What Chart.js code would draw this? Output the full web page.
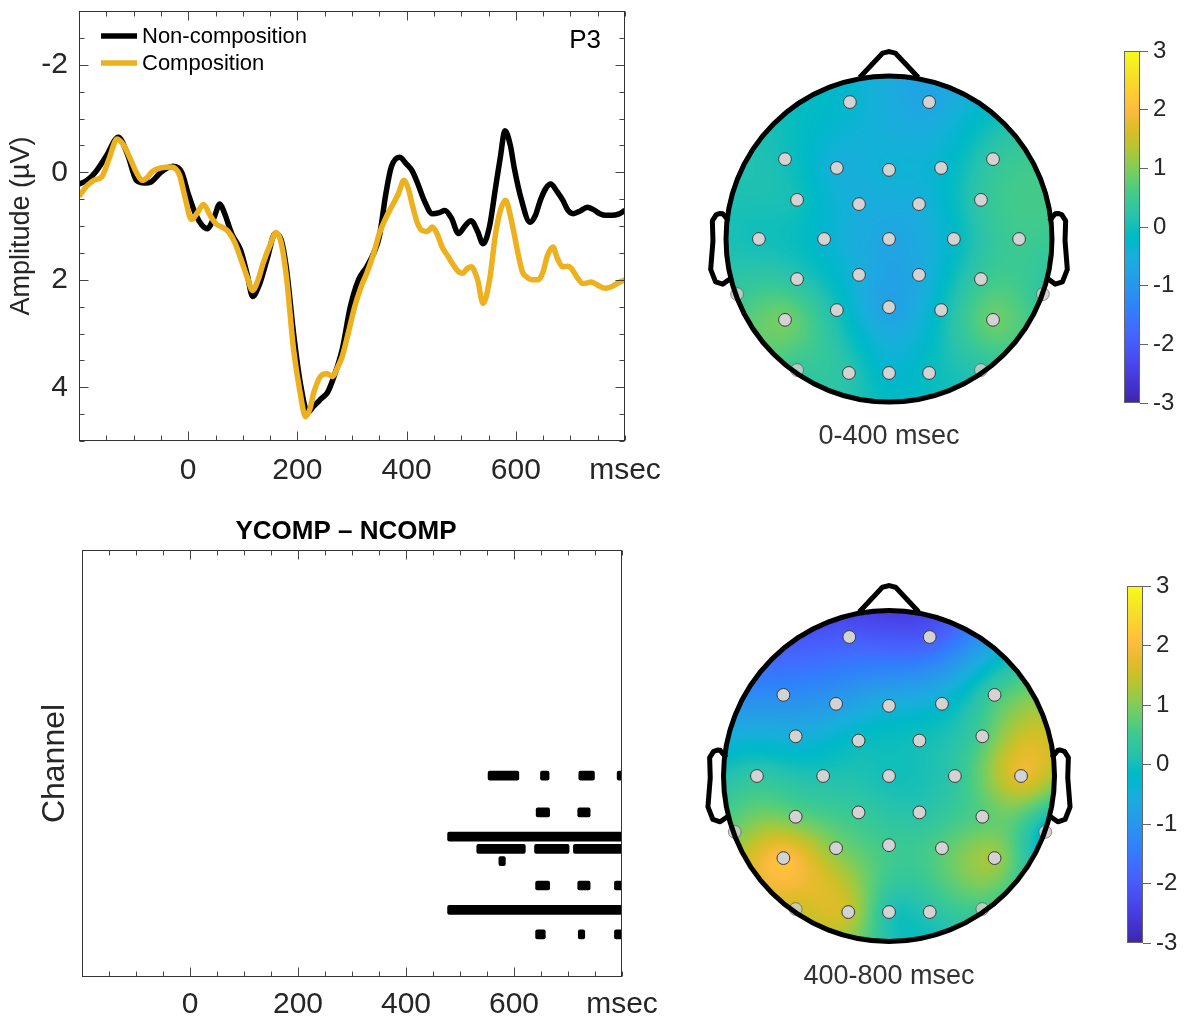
<!DOCTYPE html>
<html>
<head>
<meta charset="utf-8">
<script src="https://cdn.jsdelivr.net/npm/chart.js@4.4.0/dist/chart.umd.min.js"></script>
<style>
  body { margin:0; width:1189px; height:1018px; overflow:hidden; background:#fff; position:relative; }
  canvas { position:absolute; }
</style>
</head>
<body>
<canvas id="erp" width="700" height="500" style="left:0px;top:0px"></canvas>
<canvas id="sig" width="700" height="518" style="left:0px;top:500px"></canvas>
<canvas id="topo1" width="440" height="480" style="left:670px;top:0px"></canvas>
<canvas id="topo2" width="440" height="498" style="left:670px;top:520px"></canvas>
<canvas id="cb1" width="89" height="460" style="left:1100px;top:0px"></canvas>
<canvas id="cb2" width="89" height="470" style="left:1100px;top:530px"></canvas>
<script>
// ---------------- DATA ----------------
const seriesNames = ['Non-composition', 'Composition'];
const channelName = 'P3';

const timesNC = [-200,-185,-170,-150,-128,-110,-95,-80,-68,-50,-28,-12,0,13,25,35,47,58,66,80,96,108,118,130,145,159,170,180,193,205,219,230,245,255,267,282,297,312,327,340,350,362,372,387,400,410,420,432,447,460,470,482,495,507,518,530,540,552,563,572,580,590,597,610,626,636,645,655,664,675,686,695,705,718,731,743,754,765,776,788,800];
const ampNC = [0.22,0.15,0.0,-0.3,-0.65,-0.3,0.15,0.2,0.18,0.0,-0.11,0.0,0.4,0.77,0.98,1.05,0.85,0.59,0.75,1.15,1.45,1.9,2.31,2.1,1.6,1.14,1.25,1.8,3.0,3.9,4.47,4.35,4.2,4.1,3.8,3.3,2.5,2.0,1.76,1.5,1.2,0.4,-0.1,-0.28,-0.15,-0.03,0.2,0.52,0.77,0.75,0.71,0.85,1.14,1.0,0.9,1.1,1.33,1.0,0.28,-0.3,-0.77,-0.5,-0.09,0.5,0.93,0.8,0.52,0.3,0.22,0.35,0.52,0.7,0.77,0.72,0.65,0.7,0.77,0.8,0.8,0.78,0.71];

const timesC = [-200,-185,-173,-158,-145,-130,-118,-106,-95,-84,-75,-65,-50,-31,-16,-5,6,17,28,40,51,62,73,85,96,108,118,128,137,150,161,170,180,193,205,215,223,230,245,255,264,275,282,293,305,316,327,340,350,362,372,385,395,403,410,420,428,438,447,456,465,475,484,495,503,510,518,530,540,552,563,572,581,592,604,612,619,630,641,650,658,668,676,686,694,701,712,723,730,738,750,764,775,787,800];
const ampC = [0.45,0.25,0.15,0.08,-0.25,-0.62,-0.5,-0.25,0.0,0.15,0.1,-0.02,-0.08,-0.1,0.05,0.5,0.88,0.75,0.6,0.8,0.96,1.02,1.1,1.3,1.6,1.95,2.2,2.0,1.7,1.35,1.12,1.3,1.95,3.3,4.1,4.55,4.4,4.1,3.77,3.75,3.8,3.6,3.43,3.0,2.5,2.15,1.88,1.5,1.14,0.85,0.65,0.4,0.15,0.3,0.59,0.95,1.08,1.1,1.02,1.15,1.39,1.55,1.7,1.85,1.88,1.8,1.76,2.0,2.44,2.0,1.14,0.7,0.52,0.9,1.51,1.85,1.94,2.0,2.0,1.85,1.55,1.39,1.6,1.76,1.75,1.78,1.95,2.07,2.06,2.04,2.1,2.16,2.13,2.06,2.0];

const xTickLabels = { '0':'0', '200':'200', '400':'400', '600':'600', '800':'msec' };
const yTickLabels = { '-2':'-2', '0':'0', '2':'2', '4':'4' };
const xMajorTicks = [0, 200, 400, 600];
const yMajorTicks = [-2, 0, 2, 4];

const diffTitle = 'YCOMP \u2013 NCOMP';
const sigRows  = [19, 19, 19, 19, 22, 22, 24, 25, 25, 25, 26, 28, 28, 28, 30, 32, 32, 32];
const sigStart = [552,649,720,791,641,718,477,531,638,710,572,640,718,786,477,640,719,786];
const sigEnd   = [609,665,749,800,666,741,800,621,702,800,584,666,741,800,800,658,731,800];

// electrode positions (head radius = 0.5, +y = front)
const elecX = [-0.120,0.123, -0.319,-0.160,0,0.160,0.319, -0.282,-0.092,0.092,0.282, -0.399,-0.199,0,0.199,0.399, -0.282,-0.092,0.092,0.282, -0.466,-0.319,-0.160,0,0.160,0.319,0.472, -0.282,-0.123,0,0.123,0.282];
const elecY = [0.420,0.420, 0.245,0.218,0.212,0.218,0.245, 0.120,0.107,0.107,0.120, 0,0,0,0,0, -0.123,-0.110,-0.110,-0.123, -0.169,-0.248,-0.218,-0.209,-0.218,-0.248,-0.169, -0.402,-0.411,-0.411,-0.411,-0.402];
const topoEarly = [-0.3,-0.7, 0.0,-0.5,-0.4,-0.3,0.3, 0.0,-0.5,-0.5,0.3, 0.0,-0.3,-0.7,-0.2,0.5, 0.2,-0.5,-0.6,0.4, 0.4,0.9,0.0,-0.8,-0.1,0.85,0.3, 0.4,0.2,-0.3,-0.1,0.2];
const topoLate  = [-2.0,-2.0, -1.2,-0.9,-0.5,-0.3,0.5, -0.5,-0.1,0.0,0.6, 0.3,0.1,0.0,0.3,1.8, 0.8,0.4,0.2,0.7, 0.9,2.1,1.0,0.5,0.7,1.2,-0.3, 1.5,1.5,0.1,0.2,0.5];
const topoTitles = ['0-400 msec', '400-800 msec'];
const cbMin = -3, cbMax = 3;

// ---------------- STYLE ----------------
const FONT = "'Liberation Sans', Arial, Helvetica, sans-serif";
const TXT = '#262626';
const ORANGE = '#EDB120';
Chart.defaults.font.family = FONT;
Chart.defaults.animation = false;

const PARULA = [[0.2422,0.1504,0.6603],[0.2504,0.1650,0.7076],[0.2578,0.1818,0.7511],[0.2647,0.1978,0.7952],[0.2706,0.2147,0.8364],[0.2751,0.2342,0.8710],[0.2783,0.2559,0.8991],[0.2803,0.2782,0.9221],[0.2813,0.3006,0.9414],[0.2810,0.3228,0.9579],[0.2795,0.3447,0.9717],[0.2760,0.3667,0.9829],[0.2699,0.3892,0.9906],[0.2602,0.4123,0.9952],[0.2440,0.4358,0.9988],[0.2206,0.4603,0.9973],[0.1963,0.4847,0.9892],[0.1834,0.5074,0.9798],[0.1786,0.5289,0.9682],[0.1764,0.5499,0.9520],[0.1687,0.5703,0.9359],[0.1540,0.5902,0.9218],[0.1460,0.6091,0.9079],[0.1380,0.6276,0.8973],[0.1248,0.6459,0.8883],[0.1113,0.6635,0.8763],[0.0952,0.6798,0.8598],[0.0689,0.6948,0.8394],[0.0297,0.7082,0.8163],[0.0036,0.7203,0.7917],[0.0067,0.7312,0.7660],[0.0433,0.7411,0.7394],[0.0964,0.7500,0.7120],[0.1408,0.7584,0.6842],[0.1717,0.7670,0.6554],[0.1938,0.7758,0.6251],[0.2161,0.7843,0.5923],[0.2470,0.7918,0.5567],[0.2906,0.7973,0.5188],[0.3406,0.8008,0.4789],[0.3909,0.8029,0.4354],[0.4456,0.8024,0.3909],[0.5044,0.7993,0.3480],[0.5616,0.7942,0.3045],[0.6174,0.7876,0.2612],[0.6720,0.7793,0.2227],[0.7242,0.7698,0.1910],[0.7738,0.7598,0.1646],[0.8203,0.7498,0.1535],[0.8634,0.7406,0.1596],[0.9035,0.7330,0.1774],[0.9393,0.7288,0.2100],[0.9728,0.7298,0.2394],[0.9956,0.7434,0.2371],[0.9970,0.7659,0.2199],[0.9952,0.7893,0.2028],[0.9892,0.8136,0.1885],[0.9786,0.8386,0.1766],[0.9676,0.8639,0.1643],[0.9610,0.8890,0.1537],[0.9597,0.9135,0.1423],[0.9628,0.9373,0.1265],[0.9691,0.9606,0.1064],[0.9769,0.9839,0.0805]];
function parula(t) {
  t = Math.max(0, Math.min(1, t));
  const f = t * 63, i = Math.min(62, Math.floor(f)), u = f - i;
  const a = PARULA[i], b = PARULA[i + 1];
  return [0,1,2].map(k => Math.round((a[k] + (b[k] - a[k]) * u) * 255));
}

function fixSize(w, h) {
  return function (s) {
    if (w != null) s.width = w;
    if (h != null) s.height = h;
    s.paddingLeft = s.paddingRight = s.paddingTop = s.paddingBottom = 0;
  };
}
function xLabel(v) { const k = String(Math.round(v)); return (k in xTickLabels) ? xTickLabels[k] : ''; }
function yLabel(v) { if (Math.abs(v - Math.round(v)) > 1e-6) return ''; const k = String(Math.round(v)); return (k in yTickLabels) ? yTickLabels[k] : ''; }

const boxTicks = {
  id: 'boxTicks',
  afterDraw(chart, args, o) {
    const { ctx, chartArea: a } = chart;
    const L = Math.round(a.left) + 0.5, R = Math.round(a.right) - 0.5;
    const T = Math.round(a.top) + 0.5, B = Math.round(a.bottom) - 0.5;
    ctx.save();
    ctx.strokeStyle = '#444'; ctx.lineWidth = 1;
    ctx.beginPath();
    const xs = chart.scales.x;
    xs.ticks.forEach(t => {
      const p = Math.round(xs.getPixelForValue(t.value)) + 0.5;
      const len = xMajorTicks.includes(Math.round(t.value)) ? 9 : 5;
      ctx.moveTo(p, B); ctx.lineTo(p, B - len);
      ctx.moveTo(p, T); ctx.lineTo(p, T + len);
    });
    if (o.yTicks) {
      const ys = chart.scales.y;
      ys.ticks.forEach(t => {
        const p = Math.round(ys.getPixelForValue(t.value)) + 0.5;
        const isMaj = yMajorTicks.some(m => Math.abs(m - t.value) < 1e-6);
        const len = isMaj ? 9 : 5;
        ctx.moveTo(L, p); ctx.lineTo(L + len, p);
        ctx.moveTo(R, p); ctx.lineTo(R - len, p);
      });
    }
    ctx.stroke();
    ctx.strokeStyle = '#333';
    ctx.strokeRect(L, T, R - L, B - T);
    ctx.restore();
  }
};

// ---------------- ERP CHART ----------------
const erpDecor = {
  id: 'erpDecor',
  afterDraw(chart) {
    const { ctx, chartArea: a } = chart;
    ctx.save();
    chart.data.datasets.forEach((ds, i) => {
      const y = 36 + 27 * i;
      ctx.strokeStyle = ds.borderColor; ctx.lineWidth = 5.5; ctx.lineCap = 'butt';
      ctx.beginPath(); ctx.moveTo(101, y); ctx.lineTo(137, y); ctx.stroke();
      ctx.fillStyle = '#000'; ctx.font = '22px ' + FONT;
      ctx.textBaseline = 'middle'; ctx.textAlign = 'left';
      ctx.fillText(ds.label, 142, y + 1);
    });
    ctx.font = '26px ' + FONT; ctx.textAlign = 'right'; ctx.fillStyle = '#000';
    ctx.fillText(channelName, 601, 41);
    ctx.translate(22, (a.top + a.bottom) / 2);
    ctx.rotate(-Math.PI / 2);
    ctx.textAlign = 'center'; ctx.fillStyle = TXT; ctx.font = '27px ' + FONT;
    ctx.fillText('Amplitude (\u00B5V)', 0, 0);
    ctx.restore();
  }
};

new Chart(document.getElementById('erp'), {
  type: 'line',
  data: {
    datasets: [
      { label: seriesNames[0], data: timesNC.map((t, i) => ({ x: t, y: ampNC[i] })), borderColor: '#000', borderWidth: 5.5, pointRadius: 0, cubicInterpolationMode: 'monotone', order: 1 },
      { label: seriesNames[1], data: timesC.map((t, i) => ({ x: t, y: ampC[i] })), borderColor: ORANGE, borderWidth: 5.5, pointRadius: 0, cubicInterpolationMode: 'monotone', order: 0 }
    ]
  },
  options: {
    responsive: false, devicePixelRatio: 1, events: [],
    layout: { autoPadding: false, padding: { left: 0, top: 11, right: 75, bottom: 0 } },
    plugins: { legend: { display: false }, tooltip: { enabled: false }, boxTicks: { yTicks: true } },
    scales: {
      x: { type: 'linear', min: -200, max: 800, grid: { display: false, drawTicks: false }, border: { display: false },
           ticks: { stepSize: 50, autoSkip: false, maxRotation: 0, padding: 12, color: TXT, font: { size: 30 }, callback: v => xLabel(v) },
           afterFit: fixSize(null, 59) },
      y: { type: 'linear', min: -3, max: 5, reverse: true, grid: { display: false, drawTicks: false }, border: { display: false },
           ticks: { stepSize: 0.5, autoSkip: false, padding: 11, color: TXT, font: { size: 30 }, callback: v => yLabel(v) },
           afterFit: fixSize(79, null) }
    }
  },
  plugins: [boxTicks, erpDecor]
});

// ---------------- SIGNIFICANCE RASTER ----------------
const sigDecor = {
  id: 'sigDecor',
  afterDraw(chart) {
    const { ctx, chartArea: a } = chart;
    ctx.save();
    ctx.fillStyle = '#000'; ctx.font = 'bold 26px ' + FONT;
    ctx.textAlign = 'center'; ctx.textBaseline = 'middle';
    ctx.fillText(diffTitle, 346, 32);
    ctx.translate(55, (a.top + a.bottom) / 2);
    ctx.rotate(-Math.PI / 2);
    ctx.fillStyle = TXT; ctx.font = '32px ' + FONT;
    ctx.fillText('Channel', 0, 0);
    ctx.restore();
  }
};
new Chart(document.getElementById('sig'), {
  type: 'bar',
  data: {
    datasets: [{
      data: sigRows.map((r, i) => ({ y: r, x: [sigStart[i], sigEnd[i]] })),
      backgroundColor: '#000', borderWidth: 0, borderRadius: 2, borderSkipped: false, barThickness: 9
    }]
  },
  options: {
    indexAxis: 'y', responsive: false, devicePixelRatio: 1, events: [],
    layout: { autoPadding: false, padding: { left: 0, top: 50, right: 78, bottom: 0 } },
    plugins: { legend: { display: false }, tooltip: { enabled: false }, boxTicks: { yTicks: false } },
    scales: {
      x: { type: 'linear', min: -200, max: 800, grid: { display: false, drawTicks: false }, border: { display: false },
           ticks: { stepSize: 50, autoSkip: false, maxRotation: 0, padding: 10, color: TXT, font: { size: 30 }, callback: v => xLabel(v) },
           afterFit: fixSize(null, 41) },
      y: { type: 'linear', min: 0.5, max: 35.5, reverse: true, offset: false, grid: { display: false, drawTicks: false }, border: { display: false },
           ticks: { display: false }, afterFit: fixSize(82, null) }
    }
  },
  plugins: [boxTicks, sigDecor]
});

// ---------------- TOPOGRAPHIC MAPS ----------------
function green(d) { return d <= 0 ? 0 : d * d * (Math.log(d) - 1); }
function splineWeights(xs, ys, vs) {
  const n = xs.length, A = [];
  for (let i = 0; i < n; i++) {
    const row = [];
    for (let j = 0; j < n; j++) row.push(green(Math.hypot(xs[i] - xs[j], ys[i] - ys[j])));
    row.push(vs[i]); A.push(row);
  }
  for (let c = 0; c < n; c++) {
    let p = c;
    for (let r = c + 1; r < n; r++) if (Math.abs(A[r][c]) > Math.abs(A[p][c])) p = r;
    [A[c], A[p]] = [A[p], A[c]];
    for (let r = 0; r < n; r++) {
      if (r === c) continue;
      const f = A[r][c] / A[c][c];
      if (f === 0) continue;
      for (let k = c; k <= n; k++) A[r][k] -= f * A[c][k];
    }
  }
  return A.map((row, i) => row[n] / row[i]);
}
const EarX = [0.492, 0.510, 0.518, 0.5299, 0.5419, 0.54, 0.547, 0.532, 0.510, 0.484];
const EarY = [0.0555, 0.0775, 0.0783, 0.0746, 0.0555, -0.0055, -0.0932, -0.1313, -0.1384, -0.1199];
const NoseX = [0.09, 0.02, 0, -0.02, -0.09];
const NoseY = [0.4954, 0.57, 0.575, 0.57, 0.4954];

function topoPlugin(values, title) {
  return {
    id: 'topo',
    beforeDatasetsDraw(chart) {
      const { ctx } = chart;
      const xs = chart.scales.x, ys = chart.scales.y;
      const cx = xs.getPixelForValue(0), cy = ys.getPixelForValue(0);
      const s = xs.getPixelForValue(1) - cx;
      const w = splineWeights(elecX, elecY, values);
      const R = 0.5 * s;
      const size = Math.ceil(2 * R) + 6;
      const ox = Math.round(cx - size / 2), oy = Math.round(cy - size / 2);
      const off = document.createElement('canvas'); off.width = size; off.height = size;
      const octx = off.getContext('2d');
      const img = octx.createImageData(size, size);
      for (let j = 0; j < size; j++) {
        for (let i = 0; i < size; i++) {
          const dx = (ox + i + 0.5 - cx) / s, dy = -(oy + j + 0.5 - cy) / s;
          if (dx * dx + dy * dy > 0.253) continue;
          let v = 0;
          for (let k = 0; k < elecX.length; k++) v += w[k] * green(Math.hypot(dx - elecX[k], dy - elecY[k]));
          const c = parula((v - cbMin) / (cbMax - cbMin));
          const idx = (j * size + i) * 4;
          img.data[idx] = c[0]; img.data[idx + 1] = c[1]; img.data[idx + 2] = c[2]; img.data[idx + 3] = 255;
        }
      }
      octx.putImageData(img, 0, 0);
      ctx.drawImage(off, ox, oy);
    },
    afterDatasetsDraw(chart) {
      const { ctx } = chart;
      const xs = chart.scales.x, ys = chart.scales.y;
      const cx = xs.getPixelForValue(0), cy = ys.getPixelForValue(0);
      const s = xs.getPixelForValue(1) - cx;
      ctx.save();
      ctx.strokeStyle = '#000'; ctx.lineWidth = 5; ctx.lineJoin = 'round';
      ctx.beginPath(); ctx.arc(cx, cy, 0.5 * s, 0, Math.PI * 2); ctx.stroke();
      ctx.lineJoin = 'miter';
      ctx.beginPath();
      NoseX.forEach((x, i) => { const px = cx + x * s, py = cy - NoseY[i] * s; i ? ctx.lineTo(px, py) : ctx.moveTo(px, py); });
      ctx.stroke();
      ctx.lineJoin = 'round';
      [1, -1].forEach(sg => {
        ctx.beginPath();
        EarX.forEach((x, i) => { const px = cx + sg * x * s, py = cy - EarY[i] * s; i ? ctx.lineTo(px, py) : ctx.moveTo(px, py); });
        ctx.stroke();
      });
      ctx.fillStyle = '#333'; ctx.font = '27px ' + FONT;
      ctx.textAlign = 'center'; ctx.textBaseline = 'middle';
      ctx.fillText(title, cx, cy + 0.605 * s);
      ctx.restore();
    }
  };
}
function isEdge(i) { return Math.hypot(elecX[i], elecY[i]) > 0.485; }
function makeTopo(id, values, title, cxLocal, cyLocal, scale) {
  const cv = document.getElementById(id);
  const W = cv.width, H = cv.height;
  new Chart(cv, {
    type: 'scatter',
    data: {
      datasets: [{
        data: elecX.map((x, i) => ({ x: x, y: elecY[i] })),
        pointRadius: 6.4,
        pointBackgroundColor: ctx => isEdge(ctx.dataIndex) ? 'rgba(205,205,205,0.85)' : '#d3d3d3',
        pointBorderColor: ctx => isEdge(ctx.dataIndex) ? 'rgba(70,70,70,0.55)' : '#3a3a3a',
        pointBorderWidth: 1
      }]
    },
    options: {
      responsive: false, devicePixelRatio: 1, events: [],
      layout: { autoPadding: false, padding: 0 },
      plugins: { legend: { display: false }, tooltip: { enabled: false } },
      scales: {
        x: { type: 'linear', display: false, min: -cxLocal / scale, max: (W - cxLocal) / scale },
        y: { type: 'linear', display: false, min: -(H - cyLocal) / scale, max: cyLocal / scale }
      }
    },
    plugins: [topoPlugin(values, title)]
  });
}
makeTopo('topo1', topoEarly, topoTitles[0], 219, 239, 326);
makeTopo('topo2', topoLate, topoTitles[1], 219, 256, 331);

// ---------------- COLORBARS ----------------
const cbPlugin = {
  id: 'cbFill',
  beforeDraw(chart) {
    const { ctx, chartArea: a } = chart;
    const g = ctx.createLinearGradient(0, a.bottom, 0, a.top);
    PARULA.forEach((c, i) => g.addColorStop(i / 63, 'rgb(' + c.map(v => Math.round(v * 255)).join(',') + ')'));
    ctx.save(); ctx.fillStyle = g; ctx.fillRect(a.left, a.top, a.right - a.left, a.bottom - a.top); ctx.restore();
  },
  afterDraw(chart) {
    const { ctx, chartArea: a } = chart;
    ctx.save(); ctx.strokeStyle = '#666'; ctx.lineWidth = 1;
    ctx.strokeRect(Math.round(a.left) + 0.5, Math.round(a.top) + 0.5, Math.round(a.right - a.left) - 1, Math.round(a.bottom - a.top) - 1);
    ctx.restore();
  }
};
function makeCb(id, padL, padT, axisW, padB) {
  new Chart(document.getElementById(id), {
    type: 'scatter',
    data: { datasets: [] },
    options: {
      responsive: false, devicePixelRatio: 1, events: [],
      layout: { autoPadding: false, padding: { left: padL, top: padT, right: 0, bottom: padB } },
      plugins: { legend: { display: false }, tooltip: { enabled: false } },
      scales: {
        x: { type: 'linear', display: false, min: 0, max: 1 },
        y: { type: 'linear', position: 'right', min: cbMin, max: cbMax,
             grid: { display: true, drawOnChartArea: false, drawTicks: true, tickLength: 8, color: '#666' },
             border: { display: false },
             ticks: { stepSize: 1, autoSkip: false, padding: 5, color: TXT, font: { size: 24 } },
             afterFit: fixSize(axisW, null) }
      }
    },
    plugins: [cbPlugin]
  });
}
makeCb('cb1', 24, 51, 49, 57);
makeCb('cb2', 27, 56, 46, 57);
</script>
</body>
</html>
